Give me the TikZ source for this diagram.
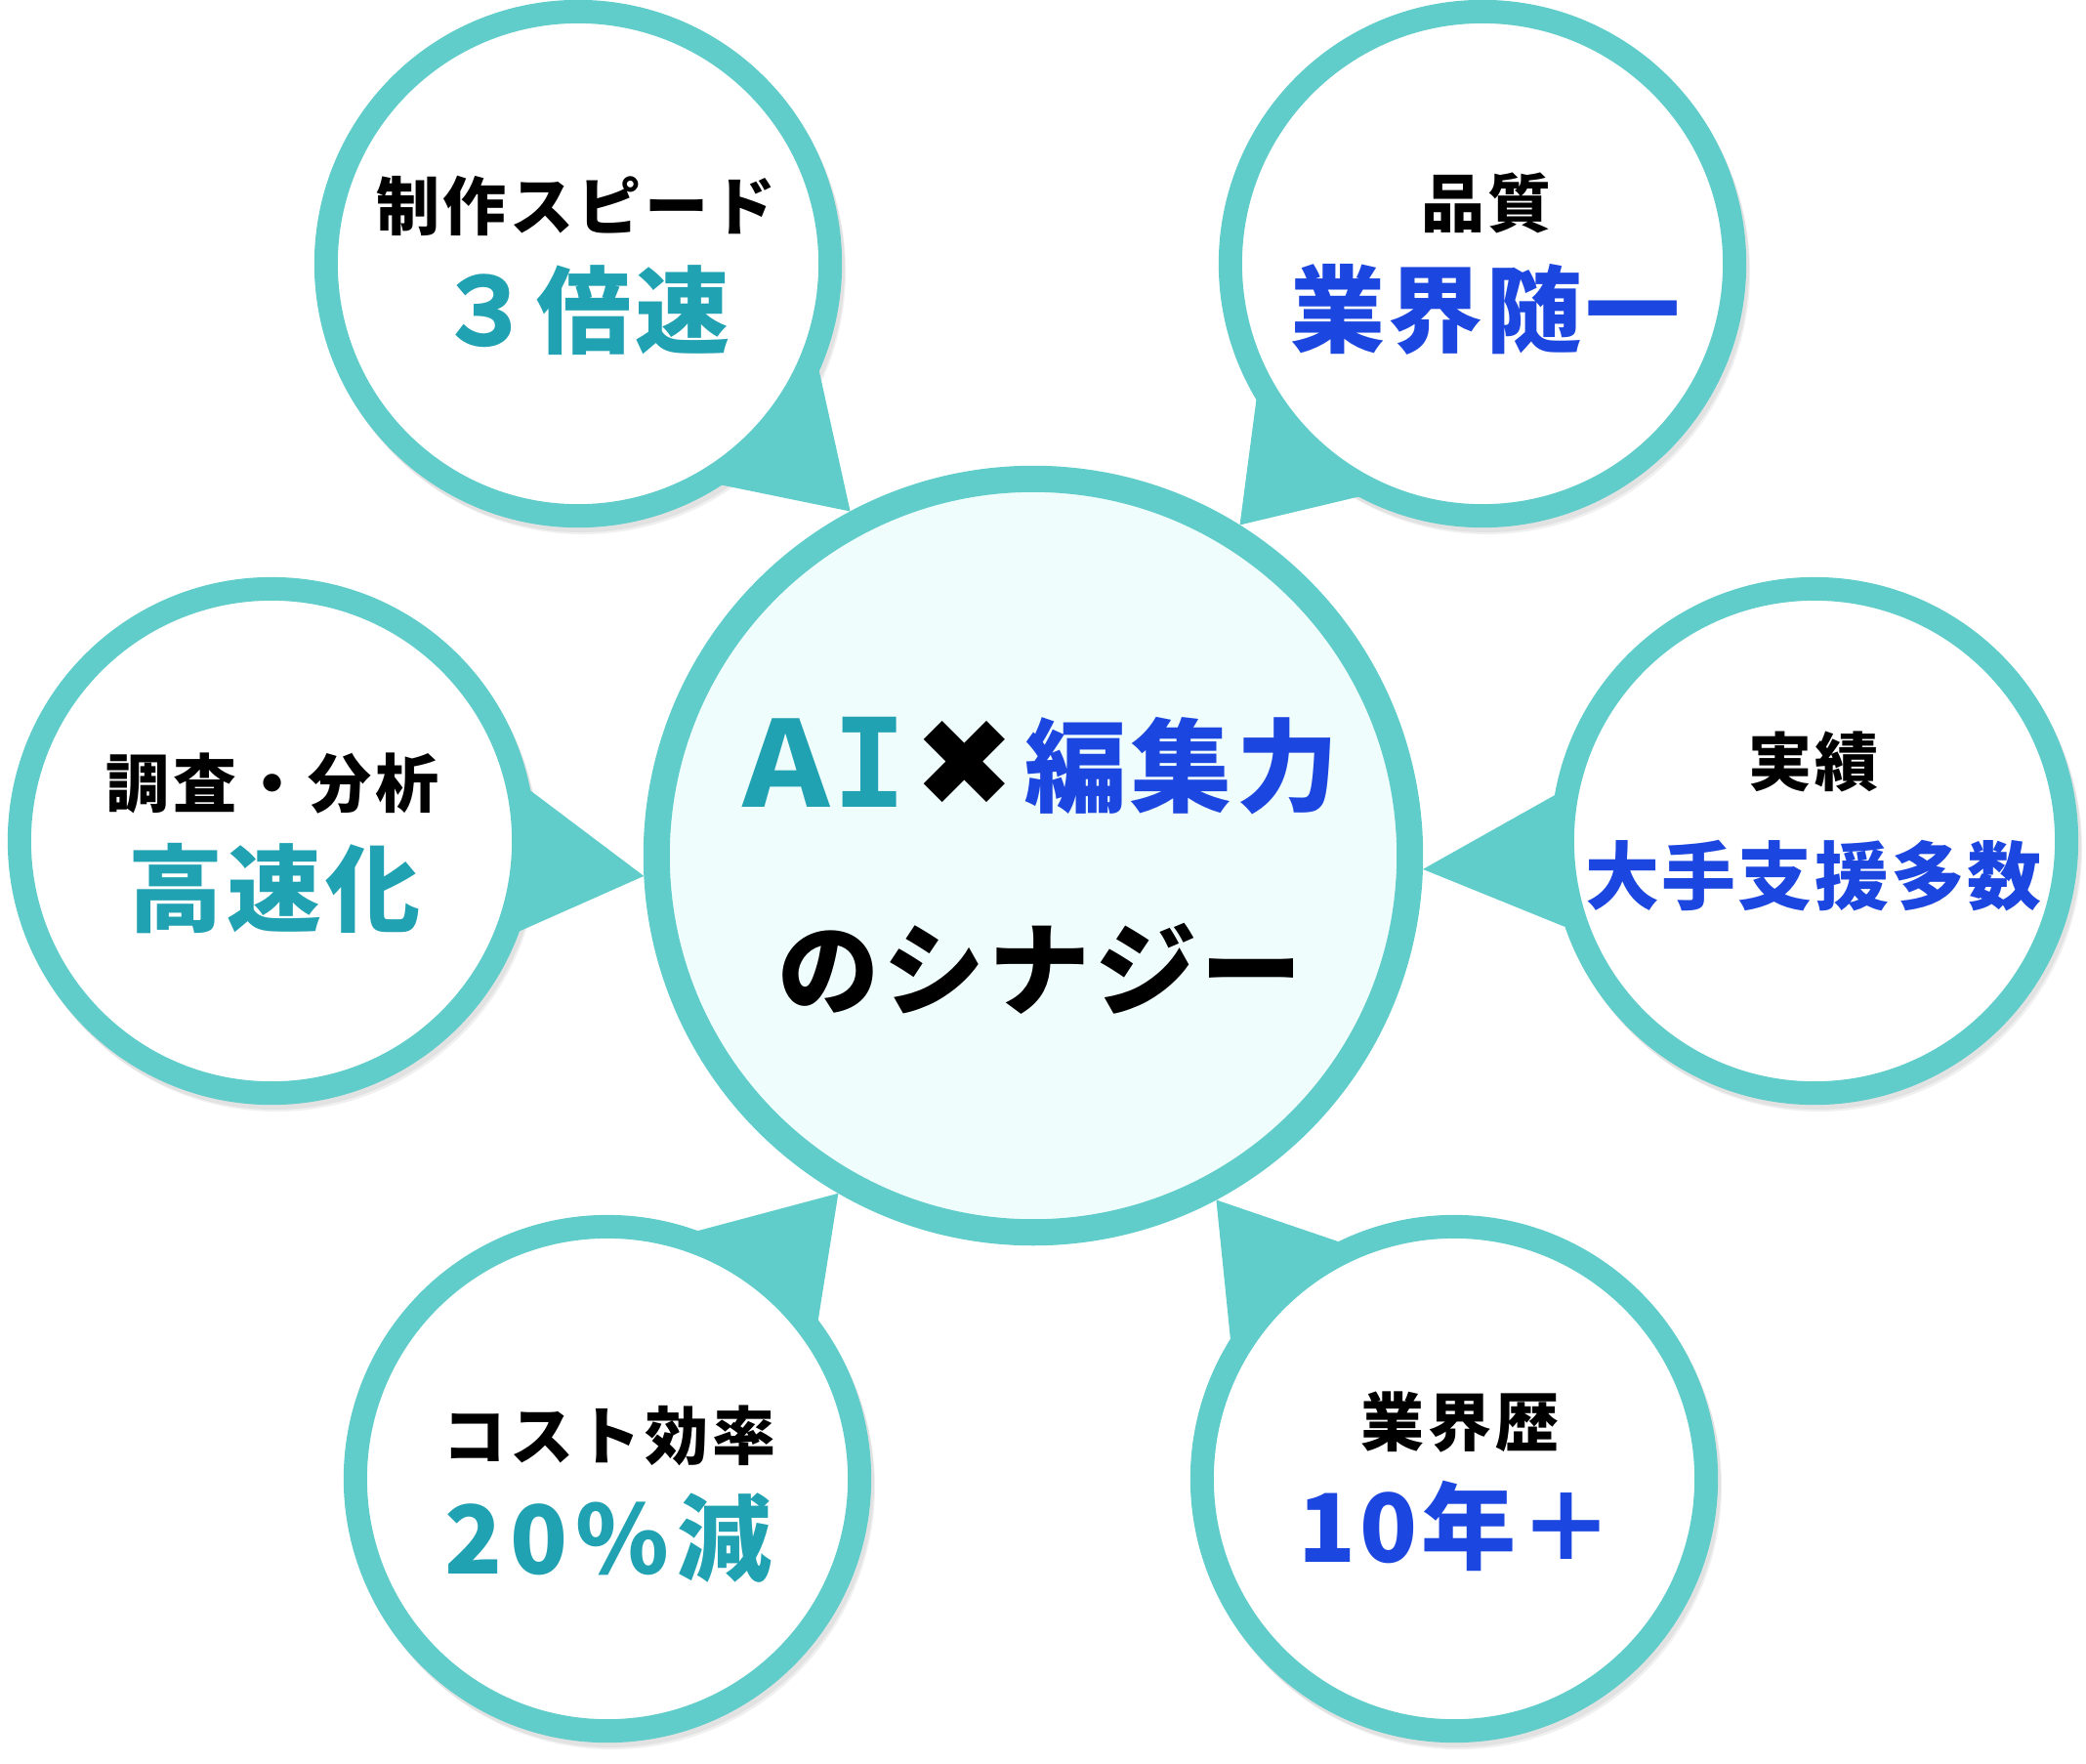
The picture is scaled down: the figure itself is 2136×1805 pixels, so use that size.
\documentclass[tikz,border=0pt]{standalone}
\usepackage{fontspec}
\newfontfamily\jp{Noto Sans CJK JP}
\newfontfamily\jpp{Noto Sans CJK JP}[RawFeature=+palt]
\newfontfamily\dv{DejaVu Sans}
\newfontfamily\dvm{DejaVu Sans Mono}
\definecolor{ring}{HTML}{60CDCB}
\definecolor{tealtxt}{HTML}{20A2B2}
\definecolor{bluetxt}{HTML}{1B46E0}
\definecolor{corefill}{HTML}{F0FDFD}
\pgfdeclarelayer{bg}
\pgfsetlayers{bg,main}
\begin{document}
\begin{tikzpicture}[x=0.01cm,y=-0.01cm,
  small/.style={circle, draw=ring, line width=0.24cm, fill=white, minimum size=5.16cm, inner sep=0pt},
  core/.style={circle, draw=ring, line width=0.27cm, fill=corefill, minimum size=7.71cm, inner sep=0pt},
  tail/.style={fill=ring},
  shade1/.style={fill=black, opacity=0.06},
  head/.style={inner sep=0pt, text=black, font=\jp\bfseries\fontsize{18.5}{20}\selectfont\addfontfeature{LetterSpace=6}},
  bigt/.style={inner sep=0pt, text=tealtxt, font=\jp\bfseries\fontsize{27.6}{30}\selectfont\addfontfeature{LetterSpace=4}},
  bigb/.style={inner sep=0pt, text=bluetxt, font=\jp\bfseries\fontsize{27.6}{30}\selectfont\addfontfeature{LetterSpace=4}},
  midb/.style={inner sep=0pt, text=bluetxt, font=\jp\bfseries\fontsize{21.6}{24}\selectfont\addfontfeature{LetterSpace=3}},
  coretxt/.style={inner sep=0pt, text=black, font=\jp\bfseries\fontsize{29.6}{32}\selectfont\addfontfeature{LetterSpace=4}},
  aitxt/.style={inner sep=0pt, text=tealtxt, font=\jpp\bfseries\fontsize{34.5}{36}\selectfont},
  crosstxt/.style={inner sep=0pt, text=black, font=\dv\bfseries\fontsize{35.5}{38}\selectfont}
]
\useasboundingbox (0,0) rectangle (2136,1805);
% circles
\node[small] (s1) at (592,270) {};
\node[small] (s2) at (1518,270) {};
\node[small] (s3) at (278,861) {};
\node[small] (s4) at (1858,861) {};
\node[small] (s5) at (622,1514) {};
\node[small] (s6) at (1489,1514) {};
\node[core] (c) at (1058,876) {};
% shadows and tails behind
\begin{pgfonlayer}{bg}
  \foreach \n in {s1,s2,s3,s4,s5,s6}{
    \fill[shade1] ([shift={(3,5)}]\n.center) circle (270);
    \fill[shade1] ([shift={(5,8)}]\n.center) circle (269);
  }
  \fill[tail] (s1.-24.2) -- (c.118.2) -- (s1.-57.1) -- cycle;
  \fill[tail] (s2.-149) -- (c.58.7) -- (s2.-118.6) -- cycle;
  \fill[tail] (s3.11) -- (c.183) -- (s3.-20.5) -- cycle;
  \fill[tail] (s4.170.3) -- (c.-2.7) -- (s4.199.9) -- cycle;
  \fill[tail] (s5.70.7) -- (c.-120.3) -- (s5.37.5) -- cycle;
  \fill[tail] (s6.116.6) -- (c.-62) -- (s6.148.9) -- cycle;
\end{pgfonlayer}
% texts
\node[head] (s1a) at (590,211) {制作スピード};
\node[bigt] (s1b) at (598,318) {３倍速};
\node[head] (s2a) at (1522,208) {品質};
\node[bigb] (s2b) at (1521,317) {業界随一};
\node[head] (s3a) at (279,802) {調査・分析};
\node[bigt] (s3b) at (281,910) {高速化};
\node[head] (s4a) at (1857,780) {実績};
\node[midb] (s4b) at (1857,897) {大手支援多数};
\node[head] (s5a) at (624,1470) {コスト効率};
\node[bigt] (s5b) at (623,1575) {\addfontfeature{LetterSpace=8}20\%減};
\node[head] (s6a) at (1495,1456) {業界歴};
\node[bigb] (s6b) at (1491,1562) {10年＋};
\node[aitxt] (c1a) at (843,780) {Ａ{\dvm\bfseries\fontsize{36}{38}\selectfont I}};
\node[crosstxt] (c1x) at (988,782) {✖};
\node[coretxt, text=bluetxt] (c1b) at (1210,784) {編集力};
\node[coretxt] (c2) at (1065,992) {のシナジー};
\end{tikzpicture}
\end{document}
